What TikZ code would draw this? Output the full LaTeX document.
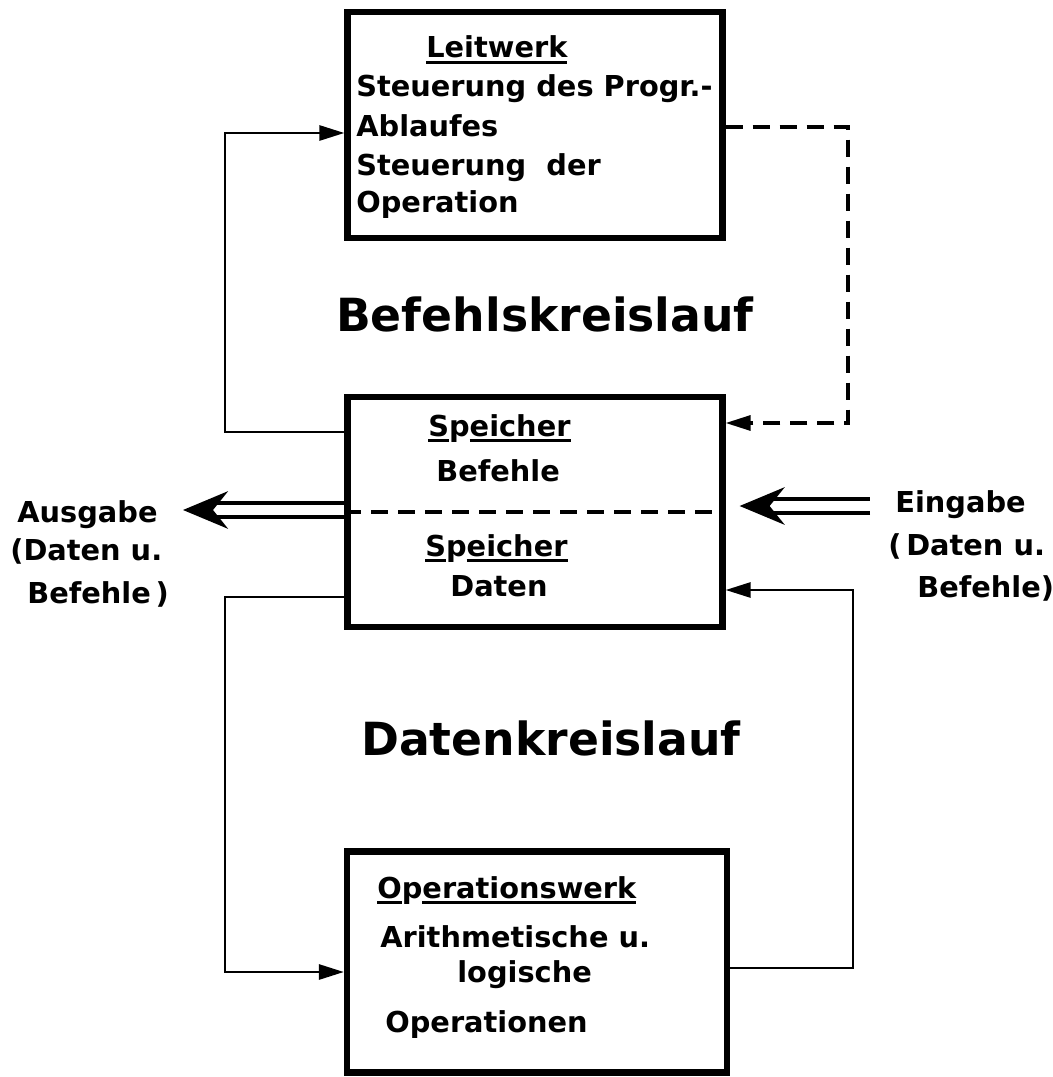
\documentclass[tikz,border=0pt]{standalone}
\usepackage{fontspec}
\setmainfont{DejaVu Sans}
\usepackage{tkz-euclide}
\usetikzlibrary{arrows.meta}
\newcommand\strich[1]{\setbox0\hbox{#1}\rlap{\rule[-0.22em]{\wd0}{0.1em}}\box0}

\begin{document}
\begin{tikzpicture}[x=0.02cm,y=-0.02cm,
		box/.style={draw,line width=3.6pt,minimum width=7.5cm},
		link/.style={line width=1.6pt,-{Triangle[length=0.5cm,width=0.3cm]}},
		dashline/.style={line width=1.8pt,dash pattern=on 0.34cm off 0.2cm},
		io/.style={double,double distance=0.2cm,line width=2pt,-{Stealth[length=0.9cm,width=0.75cm,inset=0.3cm]}},
		txt/.style={anchor=base west,inner sep=0pt,font=\bfseries\fontsize{16.4}{20}\selectfont},
		big/.style={anchor=base,inner sep=0pt,font=\bfseries\fontsize{26}{30}\selectfont}]
		\useasboundingbox (0,0) rectangle (1053,1077);

		\node[box,minimum height=4.52cm] (lw) at (535,125) {};
		\node[box,minimum height=4.6cm] (sp) at (535,512) {};
		\node[box,minimum width=7.6cm,minimum height=4.42cm] (ow) at (537,962) {};

		\tkzDefPoints{225/133/A,225/432/B,848/127/C,848/423/D,225/597/E,225/972/F,853/968/G,853/590/H,183/510/I,870/506/J}

		\draw[link] (sp.west |- B) -- (B) -- (A) -- (lw.west |- A);
		\draw[link,dashline] (lw.east |- C) -- (C) -- (D) -- (sp.east |- D);
		\draw[link] (sp.west |- E) -- (E) -- (F) -- (ow.west |- F);
		\draw[link] (ow.east |- G) -- (G) -- (H) -- (sp.east |- H);
		\draw[dashline] (sp.west) -- (sp.east);
		\draw[io] (sp.west |- I) -- (I);
		\draw[io,shorten >=0.28cm] (J) -- (sp.east |- J);

		\foreach \s/\x/\y [count=\i] in {{\strich{Leitwerk}}/426/58,{Steuerung des Progr.-}/356/97,
			{Ablaufes}/356/137,{Steuerung\ \ der}/356/176,{Operation}/356/213,
			{\strich{S}p\strich{eicher}}/428/436,{Befehle}/436/481,
			{\strich{S}p\strich{eicher}}/425/556,{Daten}/450/596,
			{\strich{O}p\strich{erationswerk}}/377/898,{Arithmetische u.}/380/947,
			{logische}/457/982,{Operationen}/385/1032,
			{Ausgabe}/17/522,{(Daten u.}/10/560,{Befehle\,)}/27/603,
			{Eingabe}/895/512,{(\,Daten u.}/888/555,{Befehle)}/917/597}
			\node[txt] (t\i) at (\x,\y) {\s};

		\node[big] (bk) at (545,332) {Befehlskreislauf};
		\node[big] (dk) at (551,755) {Datenkreislauf};
	\end{tikzpicture}
\end{document}
